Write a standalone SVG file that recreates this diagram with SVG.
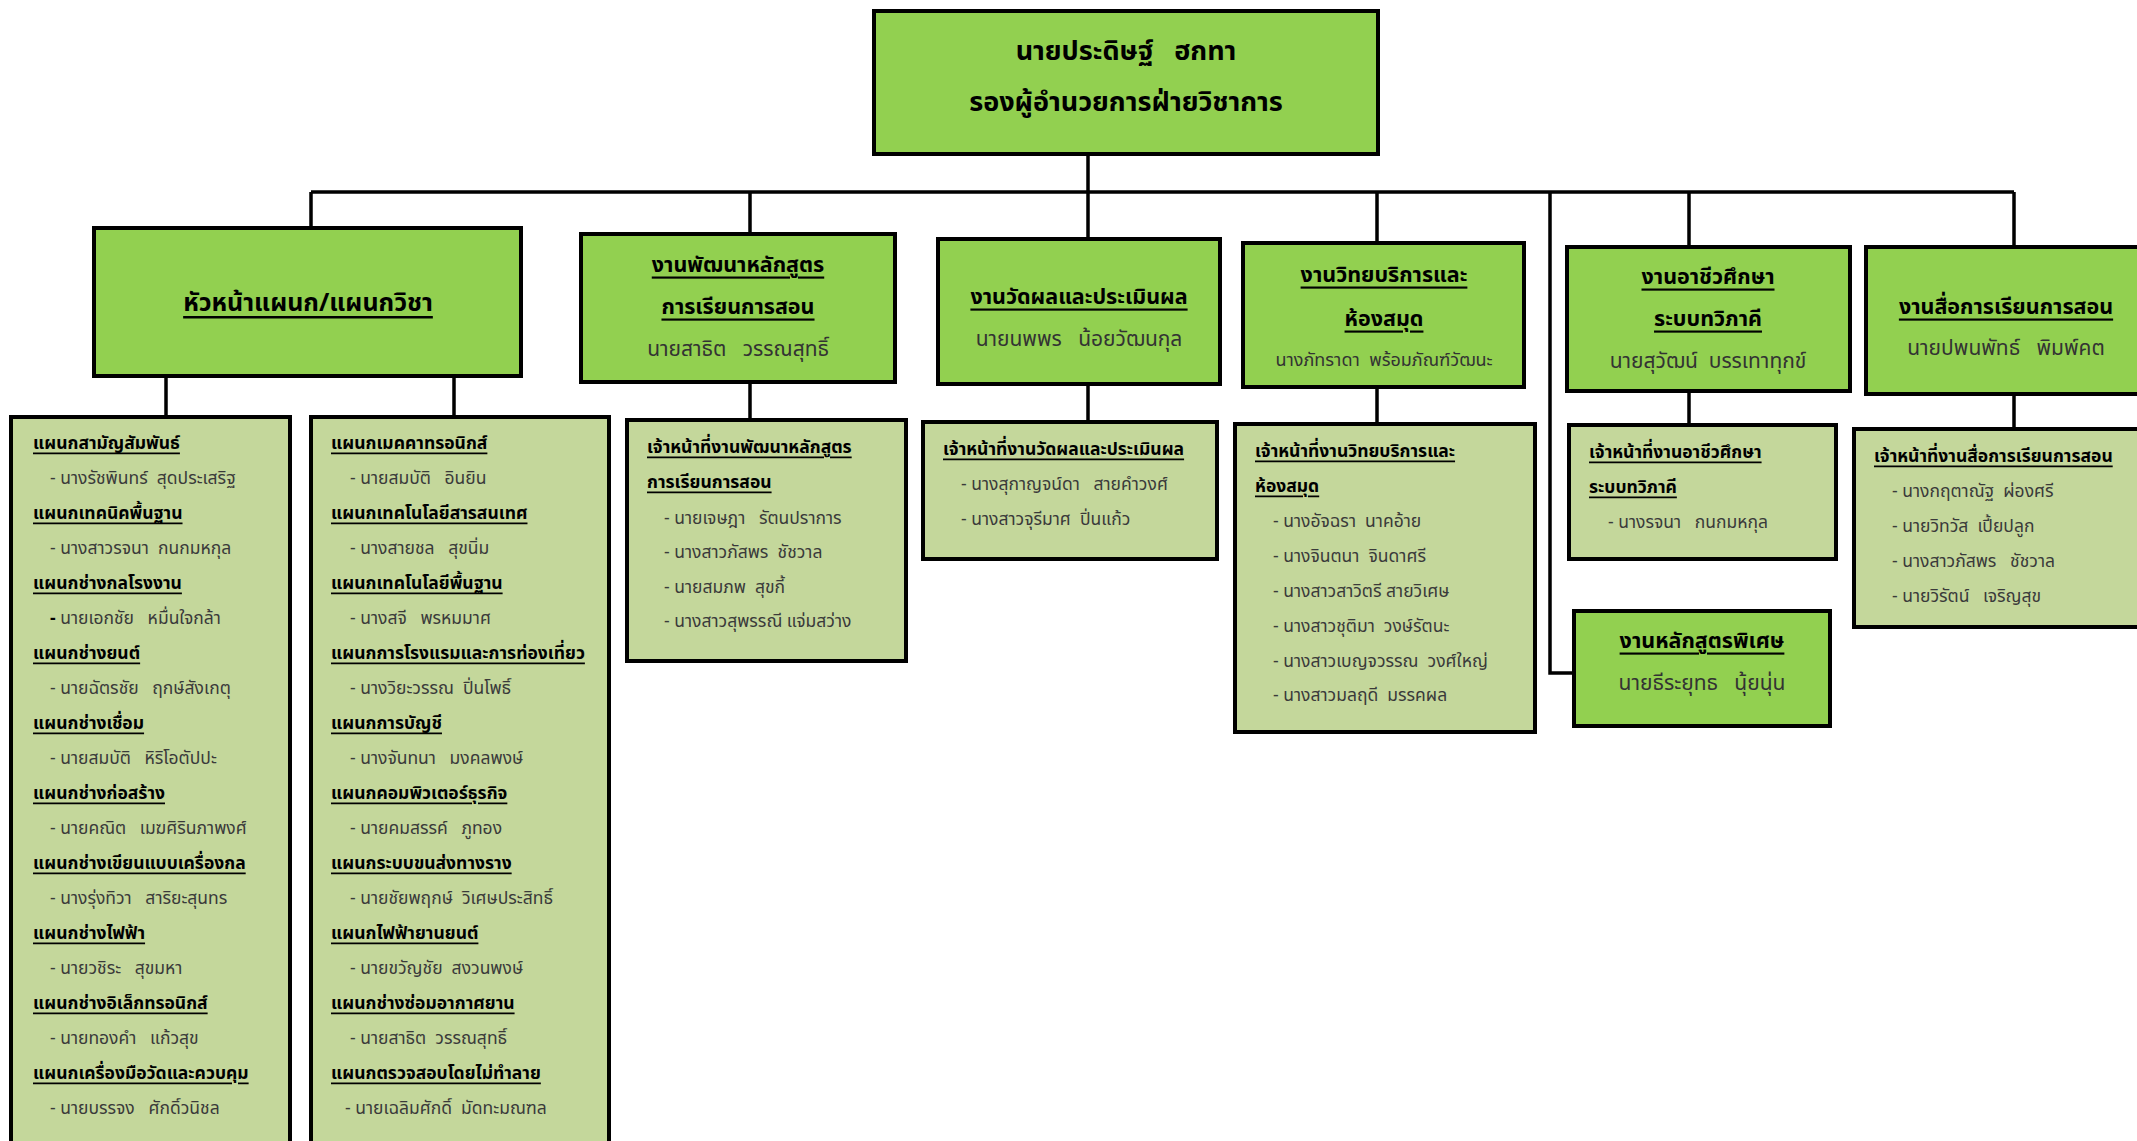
<svg xmlns="http://www.w3.org/2000/svg" width="2137" height="1141" viewBox="0 0 2137 1141">
<style>
.bx{fill:#92D050;stroke:#000;stroke-width:4}
.lb{fill:#C4D79B;stroke:#000;stroke-width:4}
.cn{fill:none;stroke:#000;stroke-width:3.5}
text{font-family:"Noto Sans Thai","Noto Sans","DejaVu Sans",sans-serif;dominant-baseline:central;white-space:pre}
.top{font-size:27px;font-weight:bold;fill:#000;text-anchor:middle}
.t2{font-size:21.5px;font-weight:bold;fill:#000;text-anchor:middle;text-decoration:underline}
.n2{font-size:21px;fill:#333;text-anchor:middle}
.h{font-size:17.5px;font-weight:bold;fill:#000;text-decoration:underline}
.i{font-size:17.5px;fill:#3a3a3a}
</style>
<rect width="2137" height="1141" fill="#fff"/>
<g id="connectors">
<path class="cn" d="M1088 154V192M311 192H2014M311 192V228M750 192V234M1088 192V239M1377 192V243M1689 192V247M2014 192V247M1550 192V673H1574"/>
<path class="cn" d="M166 376V417M454 376V417M750 382V420M1088 384V422M1377 387V424M1689 391V425M2014 394V429"/>
</g>
<g id="n-top">
<rect class="bx" x="874" y="11" width="504" height="143"/>
<text class="top" x="1126" y="51" xml:space="preserve">นายประดิษฐ์   ฮกทา</text>
<text class="top" x="1126" y="102">รองผู้อำนวยการฝ่ายวิชาการ</text>
</g>
<g id="n-head">
<rect class="bx" x="94" y="228" width="427" height="148"/>
<text class="t2" x="308" y="303" style="font-size:25px">หัวหน้าแผนก/แผนกวิชา</text>
</g>
<g id="n-curr">
<rect class="bx" x="581" y="234" width="314" height="148"/>
<text class="t2" x="738" y="265">งานพัฒนาหลักสูตร</text>
<text class="t2" x="738" y="307">การเรียนการสอน</text>
<text class="n2" x="738" y="349" xml:space="preserve">นายสาธิต   วรรณสุทธิ์</text>
</g>
<g id="n-eval">
<rect class="bx" x="938" y="239" width="282" height="145"/>
<text class="t2" x="1079" y="297">งานวัดผลและประเมินผล</text>
<text class="n2" x="1079" y="339" xml:space="preserve">นายนพพร   น้อยวัฒนกุล</text>
</g>
<g id="n-lib">
<rect class="bx" x="1243" y="243" width="281" height="144"/>
<text class="t2" x="1384" y="275">งานวิทยบริการและ</text>
<text class="t2" x="1384" y="319">ห้องสมุด</text>
<text class="n2" x="1384" y="360" style="font-size:18px" xml:space="preserve">นางภัทราดา  พร้อมภัณฑ์วัฒนะ</text>
</g>
<g id="n-dual">
<rect class="bx" x="1567" y="247" width="283" height="144"/>
<text class="t2" x="1708" y="277">งานอาชีวศึกษา</text>
<text class="t2" x="1708" y="319">ระบบทวิภาคี</text>
<text class="n2" x="1708" y="361" xml:space="preserve">นายสุวัฒน์  บรรเทาทุกข์</text>
</g>
<g id="n-media">
<rect class="bx" x="1866" y="247" width="280" height="147"/>
<text class="t2" x="2006" y="307">งานสื่อการเรียนการสอน</text>
<text class="n2" x="2006" y="348" xml:space="preserve">นายปพนพัทธ์   พิมพ์คต</text>
</g>
<g id="n-special">
<rect class="bx" x="1574" y="611" width="256" height="115"/>
<text class="t2" x="1702" y="641">งานหลักสูตรพิเศษ</text>
<text class="n2" x="1702" y="683" xml:space="preserve">นายธีระยุทธ   นุ้ยนุ่น</text>
</g>
<g id="n-dept1" xml:space="preserve">
<rect class="lb" x="11" y="417" width="279" height="740"/>
<text class="h" x="33" y="443">แผนกสามัญสัมพันธ์</text>
<text class="i" x="50" y="478">- นางรัชพินทร์  สุดประเสริฐ</text>
<text class="h" x="33" y="513">แผนกเทคนิคพื้นฐาน</text>
<text class="i" x="50" y="548">- นางสาวรจนา  กนกมหกุล</text>
<text class="h" x="33" y="583">แผนกช่างกลโรงงาน</text>
<text class="i" x="50" y="618"><tspan font-weight="bold" fill="#000">-</tspan> นายเอกชัย   หมื่นใจกล้า</text>
<text class="h" x="33" y="653">แผนกช่างยนต์</text>
<text class="i" x="50" y="688">- นายฉัตรชัย   ฤกษ์สังเกตุ</text>
<text class="h" x="33" y="723">แผนกช่างเชื่อม</text>
<text class="i" x="50" y="758">- นายสมบัติ   หิริโอตัปปะ</text>
<text class="h" x="33" y="793">แผนกช่างก่อสร้าง</text>
<text class="i" x="50" y="828">- นายคณิต   เมฆศิรินภาพงศ์</text>
<text class="h" x="33" y="863">แผนกช่างเขียนแบบเครื่องกล</text>
<text class="i" x="50" y="898">- นางรุ่งทิวา   สาริยะสุนทร</text>
<text class="h" x="33" y="933">แผนกช่างไฟฟ้า</text>
<text class="i" x="50" y="968">- นายวชิระ   สุขมหา</text>
<text class="h" x="33" y="1003">แผนกช่างอิเล็กทรอนิกส์</text>
<text class="i" x="50" y="1038">- นายทองคำ   แก้วสุข</text>
<text class="h" x="33" y="1073">แผนกเครื่องมือวัดและควบคุม</text>
<text class="i" x="50" y="1108">- นายบรรจง   ศักดิ์วนิชล</text>
</g>
<g id="n-dept2" xml:space="preserve">
<rect class="lb" x="311" y="417" width="298" height="740"/>
<text class="h" x="331" y="443">แผนกเมคคาทรอนิกส์</text>
<text class="i" x="350" y="478">- นายสมบัติ   อินยิน</text>
<text class="h" x="331" y="513">แผนกเทคโนโลยีสารสนเทศ</text>
<text class="i" x="350" y="548">- นางสายชล   สุขนิ่ม</text>
<text class="h" x="331" y="583">แผนกเทคโนโลยีพื้นฐาน</text>
<text class="i" x="350" y="618">- นางสจี   พรหมมาศ</text>
<text class="h" x="331" y="653">แผนกการโรงแรมและการท่องเที่ยว</text>
<text class="i" x="350" y="688">- นางวิยะวรรณ  ปิ่นโพธิ์</text>
<text class="h" x="331" y="723">แผนกการบัญชี</text>
<text class="i" x="350" y="758">- นางจันทนา   มงคลพงษ์</text>
<text class="h" x="331" y="793">แผนกคอมพิวเตอร์ธุรกิจ</text>
<text class="i" x="350" y="828">- นายคมสรรค์   ภูทอง</text>
<text class="h" x="331" y="863">แผนกระบบขนส่งทางราง</text>
<text class="i" x="350" y="898">- นายชัยพฤกษ์  วิเศษประสิทธิ์</text>
<text class="h" x="331" y="933">แผนกไฟฟ้ายานยนต์</text>
<text class="i" x="350" y="968">- นายขวัญชัย  สงวนพงษ์</text>
<text class="h" x="331" y="1003">แผนกช่างซ่อมอากาศยาน</text>
<text class="i" x="350" y="1038">- นายสาธิต  วรรณสุทธิ์</text>
<text class="h" x="331" y="1073">แผนกตรวจสอบโดยไม่ทำลาย</text>
<text class="i" x="345" y="1108">- นายเฉลิมศักดิ์  มัดทะมณฑล</text>
</g>
<g id="n-curr-staff" xml:space="preserve">
<rect class="lb" x="627" y="420" width="279" height="241"/>
<text class="h" x="647" y="447">เจ้าหน้าที่งานพัฒนาหลักสูตร</text>
<text class="h" x="647" y="482">การเรียนการสอน</text>
<text class="i" x="664" y="518">- นายเจษฎา   รัตนปราการ</text>
<text class="i" x="664" y="552">- นางสาวภัสพร  ชัชวาล</text>
<text class="i" x="664" y="587">- นายสมภพ  สุขกี้</text>
<text class="i" x="664" y="621">- นางสาวสุพรรณี แจ่มสว่าง</text>
</g>
<g id="n-eval-staff" xml:space="preserve">
<rect class="lb" x="923" y="422" width="294" height="137"/>
<text class="h" x="943" y="449">เจ้าหน้าที่งานวัดผลและประเมินผล</text>
<text class="i" x="961" y="484">- นางสุกาญจน์ดา   สายคำวงศ์</text>
<text class="i" x="961" y="519">- นางสาวจุรีมาศ  ปิ่นแก้ว</text>
</g>
<g id="n-lib-staff" xml:space="preserve">
<rect class="lb" x="1235" y="424" width="300" height="308"/>
<text class="h" x="1255" y="451">เจ้าหน้าที่งานวิทยบริการและ</text>
<text class="h" x="1255" y="486">ห้องสมุด</text>
<text class="i" x="1273" y="521">- นางอัจฉรา  นาคอ้าย</text>
<text class="i" x="1273" y="556">- นางจินตนา  จินดาศรี</text>
<text class="i" x="1273" y="591">- นางสาวสาวิตรี สายวิเศษ</text>
<text class="i" x="1273" y="626">- นางสาวชุติมา  วงษ์รัตนะ</text>
<text class="i" x="1273" y="661">- นางสาวเบญจวรรณ  วงศ์ใหญ่</text>
<text class="i" x="1273" y="695">- นางสาวมลฤดี  มรรคผล</text>
</g>
<g id="n-dual-staff" xml:space="preserve">
<rect class="lb" x="1569" y="425" width="267" height="134"/>
<text class="h" x="1589" y="452">เจ้าหน้าที่งานอาชีวศึกษา</text>
<text class="h" x="1589" y="487">ระบบทวิภาคี</text>
<text class="i" x="1608" y="522">- นางรจนา   กนกมหกุล</text>
</g>
<g id="n-media-staff" xml:space="preserve">
<rect class="lb" x="1854" y="429" width="290" height="198"/>
<text class="h" x="1874" y="456">เจ้าหน้าที่งานสื่อการเรียนการสอน</text>
<text class="i" x="1892" y="491">- นางกฤตาณัฐ  ผ่องศรี</text>
<text class="i" x="1892" y="526">- นายวิทวัส  เปี้ยปลูก</text>
<text class="i" x="1892" y="561">- นางสาวภัสพร   ชัชวาล</text>
<text class="i" x="1892" y="596">- นายวิรัตน์   เจริญสุข</text>
</g>
</svg>
